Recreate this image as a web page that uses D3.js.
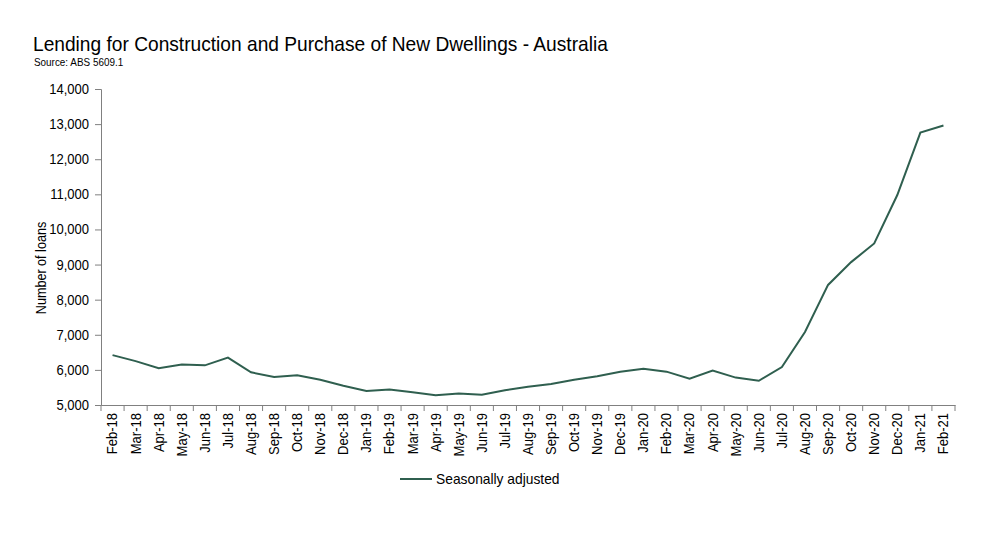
<!DOCTYPE html>
<html>
<head>
<meta charset="utf-8">
<script src="https://cdn.jsdelivr.net/npm/d3@7"></script>
<style>
  body { margin: 0; background: #fff; }
  text { font-family: "Liberation Sans", Arial, sans-serif; fill: #000; }
</style>
</head>
<body>
<div id="chart"></div>
<script>
// months Feb-18 .. Feb-21
const months = [
  "Feb-18", "Mar-18", "Apr-18", "May-18", "Jun-18", "Jul-18", "Aug-18", "Sep-18",
  "Oct-18", "Nov-18", "Dec-18", "Jan-19", "Feb-19", "Mar-19", "Apr-19", "May-19",
  "Jun-19", "Jul-19", "Aug-19", "Sep-19", "Oct-19", "Nov-19", "Dec-19", "Jan-20",
  "Feb-20", "Mar-20", "Apr-20", "May-20", "Jun-20", "Jul-20", "Aug-20", "Sep-20",
  "Oct-20", "Nov-20", "Dec-20", "Jan-21", "Feb-21"
];

// numero de prestamos, desestacionalizado
const seasonallyAdjusted = [
  6420, 6250, 6050, 6150, 6130, 6350, 5930, 5800,
  5850, 5720, 5550, 5400, 5440, 5360, 5280, 5330,
  5290, 5420, 5520, 5600, 5720, 5820, 5950, 6030,
  5950, 5750, 5980, 5780, 5690, 6080, 7080, 8420,
  9070, 9600, 10980, 12760, 12960
];

const yTicks = [5000, 6000, 7000, 8000, 9000, 10000, 11000, 12000, 13000, 14000];

const width = 1000;
const height = 538;
const margin = { top: 89, right: 45, bottom: 133, left: 101 };

// letra estrecha, como Arial Narrow
function narrow(sel, factor) {
  sel.each(function () {
    const len = this.getComputedTextLength();
    d3.select(this)
      .attr("textLength", len * factor)
      .attr("lengthAdjust", "spacingAndGlyphs");
  });
}

const svg = d3
  .select("#chart")
  .append("svg")
  .attr("width", width)
  .attr("height", height);

// titulo
svg.append("text")
  .attr("x", 33)
  .attr("y", 51)
  .style("font-size", "21px")
  .text("Lending for Construction and Purchase of New Dwellings - Australia")
  .call(narrow, 0.912);

svg.append("text")
  .attr("x", 34)
  .attr("y", 66)
  .style("font-size", "11px")
  .text("Source: ABS 5609.1")
  .call(narrow, 0.9);

// escalas
const x = d3.scaleBand()
  .domain(months)
  .range([margin.left, width - margin.right]);

const y = d3.scaleLinear()
  .domain([5000, 14000])
  .range([height - margin.bottom, margin.top]);

// eje y
const yAxis = svg.append("g")
  .attr("transform", `translate(${margin.left},0)`)
  .call(d3.axisLeft(y).tickValues(yTicks).tickFormat(d3.format(",")).tickSizeOuter(0).tickSize(6));

yAxis.select(".domain").attr("stroke", "#808080");
yAxis.selectAll(".tick line").attr("stroke", "#808080");
yAxis.selectAll(".tick text")
  .attr("x", -12)
  .style("font-size", "14px")
  .style("font-family", "Liberation Sans, Arial, sans-serif")
  .call(narrow, 0.93);

// eje x
const xAxis = svg.append("g")
  .attr("transform", `translate(0,${height - margin.bottom})`)
  .call(d3.axisBottom(x).tickSize(0).tickSizeOuter(0));

xAxis.select(".domain").attr("stroke", "#808080");
xAxis.selectAll(".tick line").remove();

// marcas entre categorias
xAxis.selectAll(".sep")
  .data(months.concat(["end"]))
  .join("line")
  .attr("class", "sep")
  .attr("x1", (d, i) => margin.left + i * x.step())
  .attr("x2", (d, i) => margin.left + i * x.step())
  .attr("y1", 0)
  .attr("y2", 6)
  .attr("stroke", "#808080");

xAxis.selectAll(".tick text")
  .attr("transform", "rotate(-90)")
  .attr("text-anchor", "end")
  .attr("dy", "0.35em")
  .attr("x", -8)
  .attr("y", 0)
  .style("font-size", "14px")
  .style("font-family", "Liberation Sans, Arial, sans-serif")
  .call(narrow, 0.93);

// etiqueta eje y
svg.append("text")
  .attr("transform", "translate(46, 268) rotate(-90)")
  .attr("text-anchor", "middle")
  .style("font-size", "14px")
  .text("Number of loans")
  .call(narrow, 0.9);

// linea
const line = d3.line()
  .x((d, i) => x(months[i]) + x.bandwidth() / 2)
  .y((d) => y(d));

svg.append("path")
  .datum(seasonallyAdjusted)
  .attr("fill", "none")
  .attr("stroke", "#2f5f4f")
  .attr("stroke-width", 2)
  .attr("d", line);

// leyenda
const legend = svg.append("g").attr("transform", "translate(400, 479)");

legend.append("line")
  .attr("x1", 0)
  .attr("x2", 32)
  .attr("stroke", "#2f5f4f")
  .attr("stroke-width", 2);

legend.append("text")
  .attr("x", 36)
  .attr("dy", "0.35em")
  .style("font-size", "15px")
  .text("Seasonally adjusted")
  .call(narrow, 0.92);
</script>
</body>
</html>
